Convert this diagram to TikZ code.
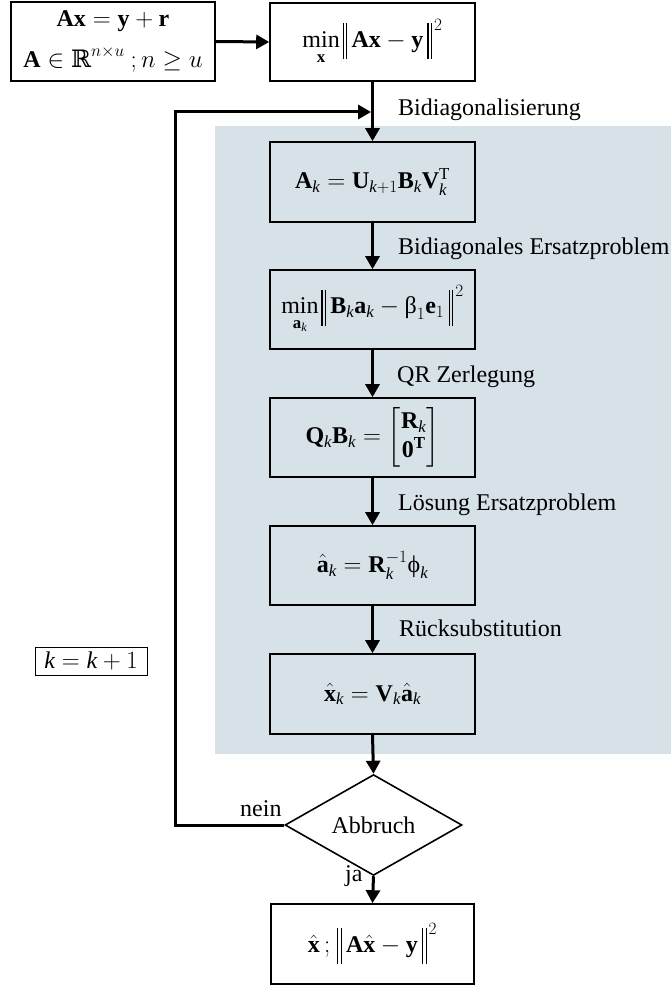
\documentclass[tikz,border=0pt]{standalone}
\usepackage{amsmath}
\usepackage{fontspec}
\setmainfont{Liberation Serif}
\newfontfamily\dejavuserif{DejaVu Serif}
\usetikzlibrary{shapes.geometric,arrows.meta}

\definecolor{panelgray}{RGB}{214,225,232}

% italic index, upright Greek letters and norm bars
\newcommand{\itk}{\mathit{k}}
\newcommand{\upb}{\text{\rmfamily β}}
\newcommand{\upf}{\text{\rmfamily ϕ}}
\newcommand{\reals}{\text{\dejavuserif ℝ}}
\newcommand{\dbar}{\vcenter{\hbox{\rule{1.2pt}{36pt}\hspace{2.4pt}\rule{1.2pt}{36pt}}}}
\newcommand{\nrm}[1]{\mathopen{\mkern2mu\dbar}\mkern3mu#1\mkern3mu\mathclose{\dbar}^{\mkern2mu 2}}

\tikzset{
  every node/.style={font=\fontsize{24}{28}\selectfont},
  procbox/.style={draw, line width=1.6pt, fill=white, minimum width=205pt,
                  minimum height=79pt, inner sep=0pt, align=center},
  innerbox/.style={procbox, fill=panelgray},
  decision/.style={draw, diamond, line width=1.6pt, fill=white,
                   minimum width=177pt, minimum height=84pt, inner sep=0pt},
  flow/.style={line width=3pt, -{Triangle[length=13pt,width=14pt]}},
  steplabel/.style={anchor=base west, inner sep=0pt},
}

\begin{document}
\begin{tikzpicture}[x=1pt,y=-1pt]
  \useasboundingbox (0,0) rectangle (671,987);

  % shaded iteration panel
  \fill[panelgray] (215,126) rectangle (671,754);

  % problem statement and least-squares problem
  \node[procbox, minimum width=204pt, font=\fontsize{24}{40}\selectfont]
    (input) at (113,41.5)
    {$\mathbf{Ax}=\mathbf{y}+\mathbf{r}$\\
     $\mathbf{A}\in\reals^{n\times u}\ ;n\ge u$};
  \node[procbox, minimum height=78pt] (lsq) at (372.5,42)
    {$\min\limits_{\mathbf{x}}\nrm{\mathbf{Ax}-\mathbf{y}}$};

  % iteration steps
  \node[innerbox, minimum height=80pt] (bidiag) at (372.5,182)
    {$\mathbf{A}_{\itk}=\mathbf{U}_{\itk+1}\mathbf{B}_{\itk}\mathbf{V}_{\itk}^{\mathrm{T}}$};
  \node[innerbox] (subprob) at (372.5,309.5)
    {$\min\limits_{\mathbf{a}_{\itk}}\nrm{\mathbf{B}_{\itk}\mathbf{a}_{\itk}-\upb_{1}\mathbf{e}_{1}}$};
  \node[innerbox] (qr) at (372.5,437.5)
    {$\mathbf{Q}_{\itk}\mathbf{B}_{\itk}=\begin{bmatrix}\mathbf{R}_{\itk}\\ \mathbf{0}^{\mathbf{T}}\end{bmatrix}$};
  \node[innerbox] (solve) at (372.5,565.5)
    {$\hat{\mathbf{a}}_{\itk}=\mathbf{R}_{\itk}^{-1}\upf_{\itk}$};
  \node[innerbox, minimum height=80pt] (backsub) at (372.5,694)
    {$\hat{\mathbf{x}}_{\itk}=\mathbf{V}_{\itk}\hat{\mathbf{a}}_{\itk}$};

  % termination test and result
  \node[decision] (stop) at (373.5,825) {Abbruch};
  \node[procbox, minimum width=203pt, minimum height=80pt] (result) at (372.5,944)
    {$\hat{\mathbf{x}}\,;\nrm{\mathbf{A}\hat{\mathbf{x}}-\mathbf{y}}$};

  % iteration counter
  \node[draw, line width=1pt, minimum width=112pt, minimum height=28pt,
        inner sep=0pt] (counter) at (91,661) {$\itk=\itk+1$};

  % main flow
  \draw[flow] (input.east) -- (lsq.west);
  \draw[flow] (lsq.south) -- (bidiag.north);
  \draw[flow] (bidiag.south) -- (subprob.north);
  \draw[flow] (subprob.south) -- (qr.north);
  \draw[flow] (qr.south) -- (solve.north);
  \draw[flow] (solve.south) -- (backsub.north);
  \draw[flow] (backsub.south) -- (stop.north);
  \draw[flow] (stop.south) -- (result.north);

  % feedback loop back into the bidiagonalisation
  \coordinate (loopcorner) at (175,112);
  \coordinate (join) at (372.5,112);
  \draw[flow, shorten >=1.4pt] (stop.west) -| (loopcorner) -- (join);

  % step labels
  \node[steplabel] (l1) at (398,116) {Bidiagonalisierung};
  \node[steplabel] (l2) at (398,254) {Bidiagonales Ersatzproblem};
  \node[steplabel] (l3) at (397,382) {QR Zerlegung};
  \node[steplabel] (l4) at (398,510) {Lösung Ersatzproblem};
  \node[steplabel] (l5) at (399,636) {Rücksubstitution};
  \node[steplabel] (lno) at (240,816) {nein};
  \node[steplabel] (lyes) at (345,881) {ja};
\end{tikzpicture}
\end{document}
